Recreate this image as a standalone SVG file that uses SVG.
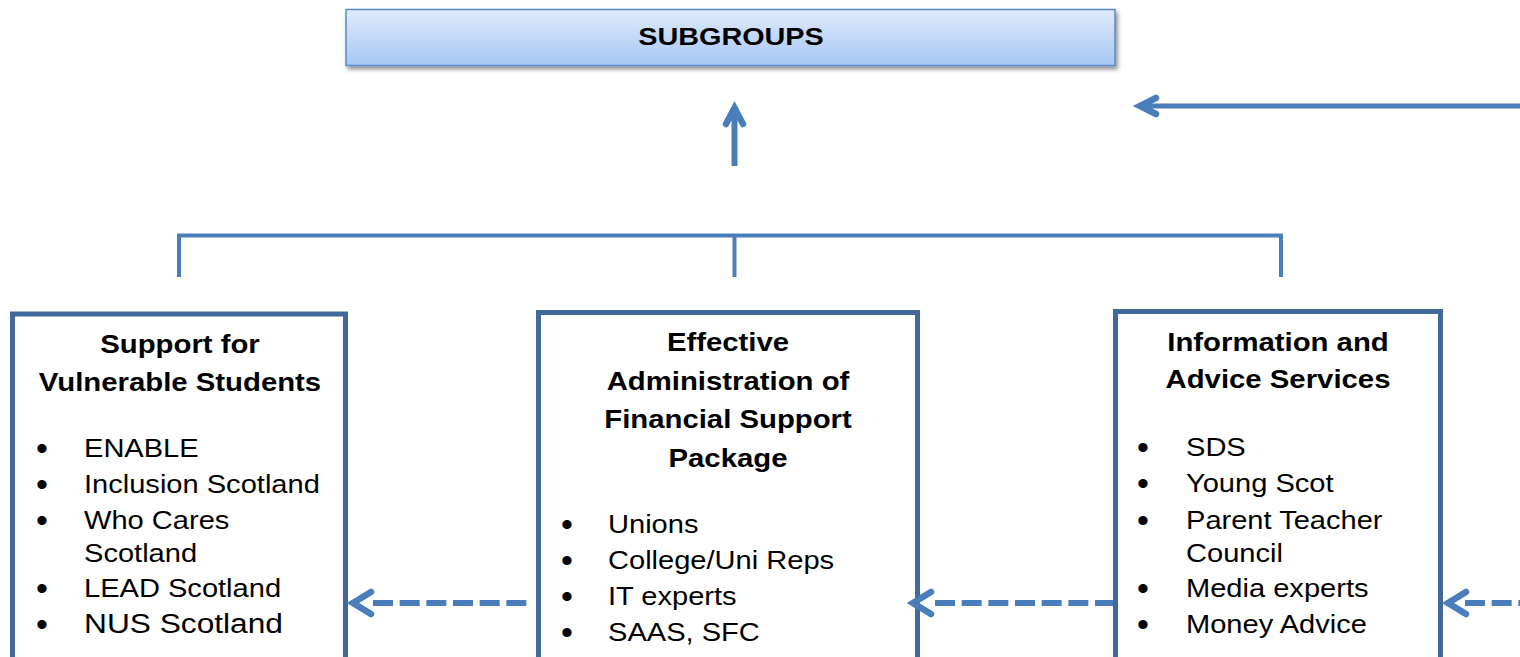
<svg xmlns="http://www.w3.org/2000/svg" width="1520" height="657" viewBox="0 0 1520 657">
  <defs>
    <linearGradient id="hdrFill" x1="0" y1="0" x2="0" y2="1">
      <stop offset="0" stop-color="#e0ebfc"/>
      <stop offset="1" stop-color="#a6c6f3"/>
    </linearGradient>
    <filter id="hdrShadow" x="-5%" y="-30%" width="110%" height="170%">
      <feDropShadow dx="2" dy="3" stdDeviation="2" flood-color="#000" flood-opacity="0.45"/>
    </filter>
  </defs>
  <style>
    text { font-family: "Liberation Sans", Arial, sans-serif; fill: #000; }
    .hdr { font-size: 24px; font-weight: bold; text-anchor: middle; }
    .title { font-size: 25.5px; font-weight: bold; text-anchor: middle; }
    .item { font-size: 25.5px; }
    .item-lg { font-size: 27.8px; }
    .bullet { font-size: 34px; text-anchor: middle; }
    .box { fill: #fff; stroke: #41689a; stroke-width: 5; }
    .wire { fill: none; stroke: #4a7ebb; }
    .solid { stroke-width: 5; }
    .dash { stroke-width: 6; stroke-dasharray: 20 6.67; }
    .head { fill: none; stroke: #4a7ebb; stroke-width: 6.5; stroke-linecap: round; stroke-linejoin: miter; }
  </style>

  <rect width="1520" height="657" fill="#fff"/>

  <!-- header -->
  <g id="subgroups">
    <rect x="346" y="9.5" width="769" height="56" fill="url(#hdrFill)" stroke="#5a8acb" stroke-width="1.5" filter="url(#hdrShadow)"/>
    <text class="hdr" transform="translate(731,45) scale(1.2,1)">SUBGROUPS</text>
  </g>

  <!-- left group -->
  <g id="vulnerable-students">
    <rect class="box" x="12.5" y="314" width="333" height="360"/>
    <text class="title" transform="translate(180,353) scale(1.15,1)">Support for</text>
    <text class="title" transform="translate(180,391) scale(1.15,1)">Vulnerable Students</text>
    <text class="bullet" x="42" y="460">•</text>
    <text class="item" transform="translate(84,457) scale(1.14,1)">ENABLE</text>
    <text class="bullet" x="42" y="496">•</text>
    <text class="item" transform="translate(84,493) scale(1.14,1)">Inclusion Scotland</text>
    <text class="bullet" x="42" y="532">•</text>
    <text class="item" transform="translate(84,529) scale(1.14,1)">Who Cares</text>
    <text class="item" transform="translate(84,562) scale(1.14,1)">Scotland</text>
    <text class="bullet" x="42" y="600">•</text>
    <text class="item" transform="translate(84,597) scale(1.14,1)">LEAD Scotland</text>
    <text class="bullet" x="42" y="636">•</text>
    <text class="item-lg" transform="translate(84,633) scale(1.14,1)">NUS Scotland</text>
  </g>

  <!-- middle group -->
  <g id="financial-support">
    <rect class="box" x="538.5" y="312.5" width="379" height="360"/>
    <text class="title" transform="translate(728,351) scale(1.15,1)">Effective</text>
    <text class="title" transform="translate(728,390) scale(1.15,1)">Administration of</text>
    <text class="title" transform="translate(728,428) scale(1.15,1)">Financial Support</text>
    <text class="title" transform="translate(728,467) scale(1.15,1)">Package</text>
    <text class="bullet" x="567" y="536">•</text>
    <text class="item" transform="translate(608,533) scale(1.14,1)">Unions</text>
    <text class="bullet" x="567" y="572">•</text>
    <text class="item" transform="translate(608,569) scale(1.14,1)">College/Uni Reps</text>
    <text class="bullet" x="567" y="608">•</text>
    <text class="item" transform="translate(608,605) scale(1.14,1)">IT experts</text>
    <text class="bullet" x="567" y="644">•</text>
    <text class="item" transform="translate(608,641) scale(1.14,1)">SAAS, SFC</text>
  </g>

  <!-- right group -->
  <g id="information-advice">
    <rect class="box" x="1115.5" y="311.5" width="325" height="360"/>
    <text class="title" transform="translate(1278,351) scale(1.15,1)">Information and</text>
    <text class="title" transform="translate(1278,388) scale(1.15,1)">Advice Services</text>
    <text class="bullet" x="1143" y="459">•</text>
    <text class="item" transform="translate(1186,456) scale(1.14,1)">SDS</text>
    <text class="bullet" x="1143" y="495">•</text>
    <text class="item" transform="translate(1186,492) scale(1.14,1)">Young Scot</text>
    <text class="bullet" x="1143" y="532">•</text>
    <text class="item" transform="translate(1186,529) scale(1.14,1)">Parent Teacher</text>
    <text class="item" transform="translate(1186,562) scale(1.14,1)">Council</text>
    <text class="bullet" x="1143" y="600">•</text>
    <text class="item" transform="translate(1186,597) scale(1.14,1)">Media experts</text>
    <text class="bullet" x="1143" y="636">•</text>
    <text class="item" transform="translate(1186,633) scale(1.14,1)">Money Advice</text>
  </g>

  <!-- connectors, drawn over the boxes so arrowheads sit on the borders -->
  <g id="connectors">
    <!-- feed-in from the right -->
    <path class="wire solid" d="M1520,106 H1140"/>
    <path class="head" d="M1156,98 L1140,106 L1156,114"/>
    <!-- up to header -->
    <path class="wire" stroke-width="6" d="M734.5,166 V108"/>
    <path class="head" d="M726,124 L734.5,108 L743,124"/>
    <!-- bracket joining the three groups -->
    <path class="wire" stroke-width="4" d="M179,277 V235.5 H1281 V277"/>
    <path class="wire" stroke-width="4" d="M734.5,235.5 V277"/>
    <!-- dashed links between groups -->
    <path class="wire dash" d="M373,603 H527"/>
    <path class="head" d="M371,592 L353,603 L371,614"/>
    <path class="wire dash" d="M935,603 H1113"/>
    <path class="head" d="M931,592 L913,603 L931,614"/>
    <path class="wire dash" d="M1465,603 H1520"/>
    <path class="head" d="M1466,592 L1448,603 L1466,614"/>
  </g>
</svg>
